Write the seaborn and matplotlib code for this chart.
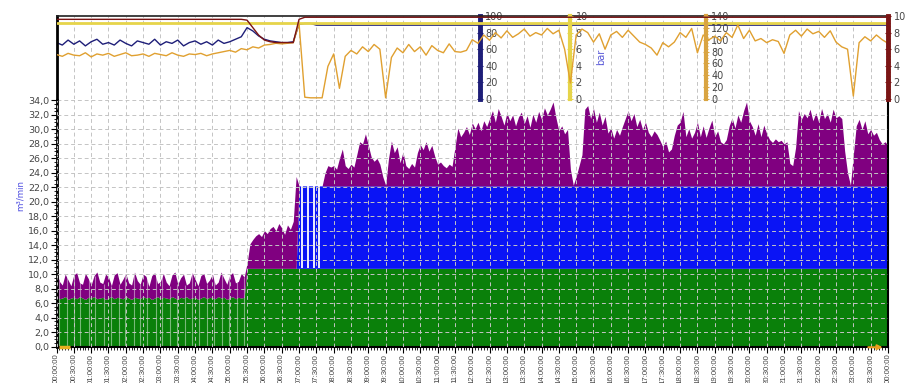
import numpy as np
import matplotlib
matplotlib.use("Agg")
import matplotlib.pyplot as plt
import seaborn as sns
from matplotlib.ticker import MultipleLocator

# ---------------------------------------------------------------- data
# Air flow, m³/min, sampled every 5 minutes from 00:00 to 24:00 (289 samples)
flow_step_h = 1 / 12

comp_a_flow = [
    6.8, 6.6, 6.7, 6.9, 6.5, 6.7, 6.8, 6.6, 6.9, 6.7, 6.5, 6.8,
    6.7, 6.9, 6.6, 6.7, 6.8, 6.5, 6.7, 6.9, 6.6, 6.8, 6.7, 6.6,
    6.9, 6.7, 6.5, 6.8, 6.7, 6.6, 6.9, 6.7, 6.8, 6.5, 6.7, 6.9,
    6.6, 6.8, 6.7, 6.6, 6.9, 6.7, 6.5, 6.8, 6.7, 6.9, 6.6, 6.7,
    6.8, 6.5, 6.7, 6.9, 6.6, 6.8, 6.7, 6.6, 6.9, 6.7, 6.8, 6.5,
    6.7, 6.9, 6.6, 6.8, 6.7, 6.8,
] + [10.8] * 223

comp_b_flow = [0.0] * 84 + [11.4] * 205

total_flow = [
    # 00:00 - 05:25
    10.3, 9.0, 8.5, 10.0, 9.2, 8.4, 9.9, 10.2, 8.8, 8.6, 10.1, 9.4,
    8.5, 9.8, 10.3, 8.9, 8.7, 10.0, 9.6, 8.4, 9.9, 10.2, 8.6, 9.3,
    10.1, 8.8, 8.5, 10.3, 9.1, 8.6, 10.0, 9.7, 8.3, 9.8, 10.2, 8.7,
    9.0, 10.1, 8.9, 8.4, 9.9, 10.3, 8.6, 9.5, 10.0, 8.5, 8.8, 10.2,
    9.3, 8.4, 9.8, 10.1, 8.7, 9.2, 10.0, 8.5, 8.9, 10.3, 9.4, 8.6,
    9.9, 10.2, 8.8, 9.0, 10.1, 9.6,
    # 05:30 - 06:55
    11.5, 14.2, 14.8, 15.3, 15.6, 15.2, 16.0, 15.6, 16.3, 16.6, 16.0, 17.0,
    16.4, 15.5, 16.8, 16.2, 17.3, 23.5,
    # 07:00 - 07:40
    22.2, 22.2, 22.2, 22.2, 22.2, 22.2, 22.2, 22.2, 22.2,
    # 07:45 - 24:00
    24.0, 25.0, 24.8, 25.0,
    24.5, 26.0, 27.3, 25.0, 24.6, 25.2,
    24.8, 26.5, 28.3, 28.0, 29.4, 27.8,
    26.2, 25.6, 26.0, 25.2,
    23.5, 22.3,
    26.0, 28.4,
    26.8, 27.6, 25.4, 26.9,
    25.0, 24.6, 25.3, 24.8,
    26.8, 27.9, 27.2, 28.3, 27.0, 27.8,
    26.3, 25.2, 25.5,
    25.0, 24.7, 25.2, 24.9,
    27.5, 30.2, 29.0, 29.6, 30.4,
    29.3, 30.9, 30.1, 31.0,
    29.8, 31.2, 30.4, 31.5,
    32.6, 31.0, 32.9, 31.8,
    30.6, 32.3, 31.2, 32.0, 30.5, 31.7,
    32.4, 30.8, 31.9, 30.3, 32.1, 31.0,
    32.5, 31.4, 33.0, 32.0, 32.8, 33.8, 31.6,
    29.8, 30.5, 29.4, 30.0,
    24.5, 22.3,
    23.5, 25.0, 26.5,
    32.8, 33.3, 31.5, 32.9,
    31.0, 32.4, 30.6, 31.8,
    29.5, 30.2, 28.8, 30.0, 29.2, 30.4,
    31.5, 32.6, 31.2, 32.2,
    30.4, 31.4, 30.0, 31.0,
    29.6, 29.0, 29.8, 29.3,
    28.5, 27.6, 28.4, 26.9, 27.3,
    29.2, 30.6, 31.0, 32.5,
    29.0, 30.1, 28.8, 29.6,
    31.0, 29.0, 30.5, 28.9,
    30.2, 31.3, 29.0, 29.8,
    28.3, 28.0, 28.6,
    30.5, 31.6, 30.2, 32.0, 31.0, 32.6, 33.8, 31.2,
    30.4, 29.2, 30.8, 29.0, 30.6, 29.4,
    28.6, 28.2, 28.7, 28.3, 28.5, 28.0, 28.3,
    25.3, 25.0, 27.5,
    32.6, 31.4, 32.2, 31.6, 32.8,
    31.2, 32.3, 31.0, 32.9, 31.5, 32.2, 31.0, 32.8, 31.6, 31.9, 31.5,
    27.0, 24.0, 22.3,
    26.5, 30.5, 31.4, 30.0, 31.2,
    29.4, 30.0, 29.2, 29.6,
    28.6, 28.0, 28.3, 27.8,
]

# short load/unload events of the base compressor (hours)
unload_times = [0.07, 0.29, 0.50, 0.69, 0.93, 1.12, 1.36, 1.56, 1.80, 1.99,
                2.23, 2.42, 2.62, 2.86, 3.05, 3.29, 3.48, 3.72, 3.91, 4.11,
                4.35, 4.54, 4.78, 4.97, 5.21, 5.40]
# short stops of the second compressor right after start-up (hours)
comp_b_gap_times = [7.08, 7.25, 7.42, 7.58]

# Process values, sampled every 10 minutes (145 samples)
top_step_h = 1 / 6
level_pct = [
    68, 65, 71, 66, 70, 64, 69, 72, 66, 68,
    65, 71, 67, 64, 70, 68, 66, 72, 65, 69,
    67, 71, 64, 68, 70, 66, 69, 65, 71, 67,
    69, 72, 75, 86, 82, 76, 72, 70, 69, 68, 68, 69, 90, 91, 91,
] + [89] * 100

pressure_bar = [9.15] * 145

temperature = [
    75, 72, 77, 74, 73, 78, 71, 76, 74, 77,
    72, 75, 78, 73, 74, 76, 72, 77, 75, 73,
    78, 74, 72, 76, 75, 77, 73, 76, 78, 80,
    82, 79, 85, 83, 88, 86, 91, 92, 94, 93, 94, 95,
    128, 3, 2, 2, 2, 55,
    76, 18, 72, 82, 76, 88, 80, 92, 84, 2, 70, 86,
    78, 92, 80, 88, 74, 90, 82, 78, 93, 80, 79, 82,
    100, 94, 108, 99, 112, 103, 115, 104, 110, 118, 106, 112,
    108, 119, 110, 116, 84, 27, 108, 118, 112, 96, 110, 84,
    108, 114, 104, 116, 106, 96, 92, 86, 74, 95, 88, 96,
    112, 104, 119, 78, 108, 100, 106, 98, 112, 104, 125, 102,
    116, 98, 102, 95, 100, 97, 77, 108, 116, 106, 118, 110,
    114, 104, 115, 96, 88, 84, 5, 95, 105, 98, 108, 100, 94,
]

net_pressure = [9.6] * 33 + [9.5, 8.6, 7.7, 7.1, 6.9, 6.8, 6.8, 6.8, 6.8] + [9.6] + [9.85] * 102

x_ticks_h = np.arange(0, 24.01, 0.5)
x_tick_labels = [f"{int(h) % 24:02d}:{int(round((h % 1) * 60)):02d}:00" for h in x_ticks_h]
flow_ticks = np.arange(0, 34.01, 2)

# ---------------------------------------------------------------- style
sns.set_theme(style="white")
plt.rcParams["font.family"] = ["DejaVu Sans"]

GREEN = "#0a800a"
BLUE = "#0a14f5"
PURPLE = "#800080"
NAVY = "#1e1e78"
YELLOW = "#e6d44a"
ORANGE = "#e0a030"
TAN = "#d9a441"
DARKRED = "#7a1414"
TICK_TXT = "#454545"
GRID = "#c4c4c4"

fig = plt.figure(figsize=(9.16, 3.83), dpi=100)

# ---------------------------------------------------------------- flow panel
ax = fig.add_axes([0.0617, 0.0953, 0.9077, 0.6423])
t_flow = np.arange(len(total_flow)) * flow_step_h
a = np.array(comp_a_flow)
b = np.array(comp_b_flow)
tot = np.array(total_flow)
rest = np.clip(tot - a - b, 0, None)
ax.stackplot(t_flow, a, b, rest, colors=[GREEN, BLUE, PURPLE], linewidth=0)

idx_u = [int(round(t / flow_step_h)) for t in unload_times]
ax.vlines(unload_times, 0, tot[idx_u], colors="white", alpha=0.45, lw=0.8, zorder=1.5)
idx_g = [int(round(t / flow_step_h)) for t in comp_b_gap_times]
ax.vlines(comp_b_gap_times, a[idx_g], a[idx_g] + b[idx_g], colors="white", lw=1.3, zorder=1.5)

ax.set_xlim(0, 24)
ax.set_ylim(0, 34)
ax.set_xticks(x_ticks_h)
ax.set_xticklabels(x_tick_labels, rotation=90, fontsize=5.6, color=TICK_TXT,
                   family=["Liberation Sans", "DejaVu Sans"])
ax.set_yticks(flow_ticks)
ax.set_yticklabels([f"{v:.1f}".replace(".", ",") for v in flow_ticks], fontsize=6.8, color=TICK_TXT)
ax.xaxis.set_minor_locator(MultipleLocator(1 / 12))
ax.yaxis.set_minor_locator(MultipleLocator(0.5))
ax.tick_params(which="major", direction="out", length=4, width=0.8, color="black", pad=1.2,
               bottom=True, left=True)
ax.tick_params(which="minor", direction="out", length=2, width=0.6, color="black",
               bottom=True, left=True)
ax.grid(True, which="major", color=GRID, ls=(0, (4, 3)), lw=0.7)
ax.set_axisbelow(False)
ax.spines["top"].set_visible(False)
for s, lw in (("left", 2.0), ("bottom", 1.5), ("right", 1.5)):
    ax.spines[s].set_color("black")
    ax.spines[s].set_linewidth(lw)

fig.text(0.022, 0.49, "m³/min", rotation=90, color="#4a4ae0", fontsize=6.2, ha="center", va="center")

# time range markers under the axis
ax.plot([0.003, 0.016], [-0.004, -0.004], transform=ax.transAxes, color="#e8b020",
        lw=2.5, clip_on=False, solid_capstyle="butt", zorder=5)
ax.annotate("", xy=(0.997, -0.003), xytext=(0.973, -0.003), xycoords="axes fraction",
            arrowprops=dict(arrowstyle="-|>", color="#e8a020", lw=1.5, mutation_scale=7),
            zorder=5)

# ---------------------------------------------------------------- process panel
axt = fig.add_axes([0.0617, 0.7415, 0.9077, 0.2167])
ax_bar = axt.twinx()
ax_tmp = axt.twinx()
ax_net = axt.twinx()
t_top = np.arange(len(level_pct)) * top_step_h

axt.set_xlim(0, 24)
axt.set_xticks(x_ticks_h)
axt.tick_params(axis="x", length=0, labelbottom=False)
axt.grid(True, axis="x", color=GRID, ls=(0, (4, 3)), lw=0.7)
axt.spines["bottom"].set_visible(False)
axt.spines["top"].set_color("#202020")
axt.spines["top"].set_linewidth(1.2)
axt.spines["left"].set_color("black")
axt.spines["left"].set_linewidth(2.0)
for tw in (ax_bar, ax_tmp, ax_net):
    for s in ("left", "top", "bottom"):
        tw.spines[s].set_visible(False)


def style_axis(axis, lo, hi, step, minor, pos, color, lw):
    axis.set_ylim(lo, hi)
    axis.yaxis.tick_right()
    axis.set_yticks(np.arange(lo, hi + 0.01, step))
    axis.yaxis.set_minor_locator(MultipleLocator(minor))
    axis.spines["right"].set_visible(True)
    axis.spines["right"].set_position(("axes", pos))
    axis.spines["right"].set_color(color)
    axis.spines["right"].set_linewidth(lw)
    axis.tick_params(axis="y", which="major", direction="inout", length=5, width=0.8,
                     color=color, labelcolor=TICK_TXT, labelsize=7, pad=1.5,
                     left=False, labelleft=False, right=True, labelright=True)
    axis.tick_params(axis="y", which="minor", direction="inout", length=3, width=0.6,
                     color=color, left=False, right=True)


sns.lineplot(x=t_top, y=level_pct, ax=axt, color=NAVY, lw=1.0, legend=False)
sns.lineplot(x=t_top, y=pressure_bar, ax=ax_bar, color=YELLOW, lw=2.0, legend=False)
sns.lineplot(x=t_top, y=temperature, ax=ax_tmp, color=ORANGE, lw=1.0, legend=False)
sns.lineplot(x=t_top, y=net_pressure, ax=ax_net, color=DARKRED, lw=1.0, legend=False)

style_axis(axt, 0, 100, 20, 4, 0.509, NAVY, 3.5)
style_axis(ax_bar, 0, 10, 2, 0.4, 0.6176, YELLOW, 3.0)
style_axis(ax_tmp, 0, 140, 20, 5, 0.781, TAN, 3.0)
style_axis(ax_net, 0, 10, 2, 0.4, 1.0, DARKRED, 3.5)
axt.spines["left"].set_visible(True)

for tw in (axt, ax_bar, ax_tmp, ax_net):
    tw.set_xlabel("")
    tw.set_ylabel("")
    tw.set_xlim(0, 24)

fig.text(601 / 916, 1 - 57 / 383, "bar", rotation=90, color="#5a5ad8", fontsize=7,
         ha="center", va="center")

fig.savefig("out.png", dpi=100, facecolor="white")
